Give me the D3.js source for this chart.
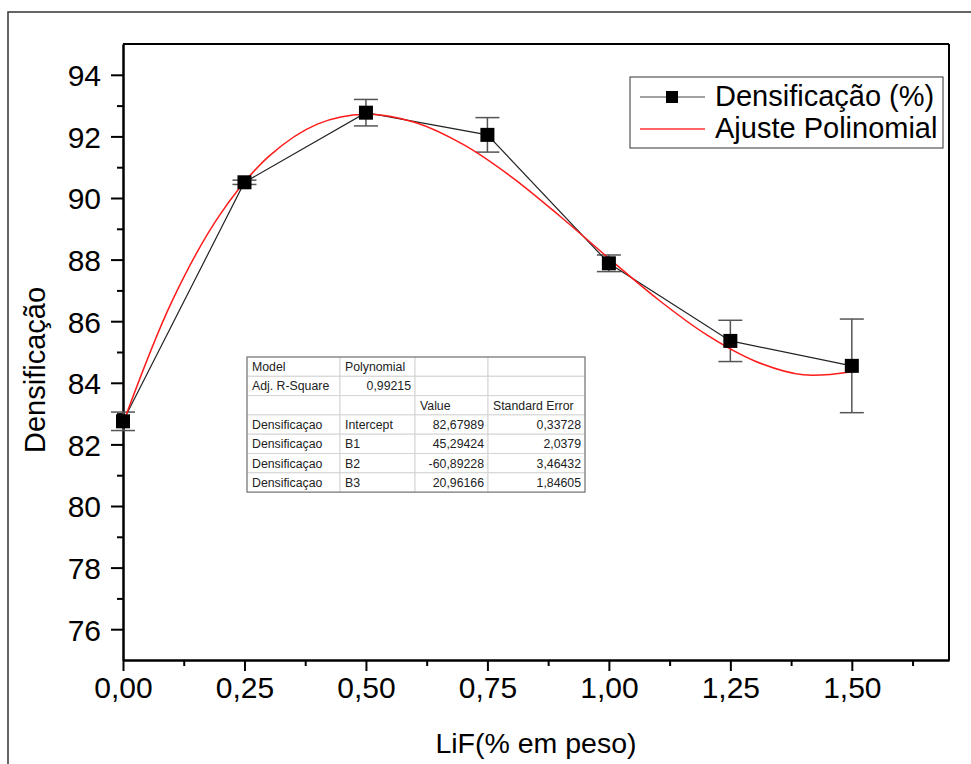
<!DOCTYPE html>
<html>
<head>
<meta charset="utf-8">
<script src="https://cdn.jsdelivr.net/npm/d3@7"></script>
<style>
  body { margin: 0; background: #fff; }
  svg { display: block; font-family: "Liberation Sans", Arial, sans-serif; }
  .axis path, .axis line { stroke: #000; stroke-width: 2; }
  .axis text { font-size: 30px; fill: #000; }
</style>
</head>
<body>
<div id="chart"></div>
<script>
// Densificação vs LiF content, with polynomial fit

// measured points
const lifContent = [0, 0.25, 0.5, 0.75, 1.0, 1.25, 1.5];
const densification = [82.75, 90.51, 92.77, 92.05, 87.88, 85.36, 84.55];
const densError = [0.30, 0.07, 0.43, 0.56, 0.27, 0.67, 1.52];

// red fit curve
const fitX = [0, 0.1, 0.2, 0.3, 0.4, 0.5, 0.6, 0.7, 0.8, 0.9, 1.0, 1.1, 1.2, 1.3, 1.4, 1.5];
const fitY = [82.68, 86.62, 89.47, 91.35, 92.40, 92.72, 92.46, 91.74, 90.68, 89.40,
              88.04, 86.72, 85.57, 84.71, 84.26, 84.36];

// axis ticks
const xTicks = [0, 0.25, 0.5, 0.75, 1.0, 1.25, 1.5];
const xMinorTicks = [0.125, 0.375, 0.625, 0.875, 1.125, 1.375, 1.625];
const yTicks = [76, 78, 80, 82, 84, 86, 88, 90, 92, 94];
const yMinorTicks = [77, 79, 81, 83, 85, 87, 89, 91, 93];

// fit results table
const tableRows = [
  ["Model", "Polynomial", "", ""],
  ["Adj. R-Square", "0,99215", "", ""],
  ["", "", "Value", "Standard Error"],
  ["Densificaçao", "Intercept", "82,67989", "0,33728"],
  ["Densificaçao", "B1", "45,29424", "2,0379"],
  ["Densificaçao", "B2", "-60,89228", "3,46432"],
  ["Densificaçao", "B3", "20,96166", "1,84605"]
];

const legendLabels = ["Densificação (%)", "Ajuste Polinomial"];

const width = 971, height = 764;
const margin = { top: 44, right: 22, bottom: 104, left: 123 };
const plot_width = width - margin.left - margin.right;
const plot_height = height - margin.top - margin.bottom;

const canvas = d3.select("#chart").append("svg")
  .attr("width", width)
  .attr("height", height);

// outer page frame
canvas.append("rect")
  .attr("x", 8).attr("y", 12)
  .attr("width", 1000).attr("height", 800)
  .attr("fill", "none")
  .attr("stroke", "#333")
  .attr("stroke-width", 1.5);

const plot = canvas.append("g")
  .attr("transform", `translate(${margin.left}, ${margin.top})`);

const x = d3.scaleLinear().domain([0, 1.7]).range([0, plot_width]);
const y = d3.scaleLinear().domain([75, 95]).range([plot_height, 0]);

const fmtX = v => d3.format(".2f")(v).replace(".", ",");

// ── Axes ────────────────────────────────────────────────────────────────
plot.append("g")
  .attr("class", "axis")
  .attr("transform", `translate(0, ${plot_height})`)
  .call(d3.axisBottom(x).tickValues(xMinorTicks).tickSize(6).tickSizeOuter(0).tickFormat(""));

plot.append("g")
  .attr("class", "axis")
  .attr("transform", `translate(0, ${plot_height})`)
  .call(d3.axisBottom(x).tickValues(xTicks).tickSize(11).tickSizeOuter(0).tickFormat(fmtX))
  .selectAll("text").attr("y", 38).attr("dy", 0);

plot.append("g")
  .attr("class", "axis")
  .call(d3.axisLeft(y).tickValues(yMinorTicks).tickSize(6).tickSizeOuter(0).tickFormat(""));

plot.append("g")
  .attr("class", "axis")
  .call(d3.axisLeft(y).tickValues(yTicks).tickSize(12).tickSizeOuter(0).tickPadding(10))
  .selectAll("text").attr("dy", "0.36em");

// top and right frame lines
plot.append("line")
  .attr("x1", 0).attr("x2", plot_width).attr("y1", 0).attr("y2", 0)
  .attr("stroke", "#000").attr("stroke-width", 2);
plot.append("line")
  .attr("x1", plot_width).attr("x2", plot_width).attr("y1", 0).attr("y2", plot_height)
  .attr("stroke", "#000").attr("stroke-width", 2);

// axis titles
canvas.append("text")
  .attr("x", margin.left + plot_width / 2)
  .attr("y", 753)
  .attr("text-anchor", "middle")
  .style("font-size", "28.5px")
  .text("LiF(% em peso)");

canvas.append("text")
  .attr("transform", "translate(45, 370) rotate(-90)")
  .attr("text-anchor", "middle")
  .style("font-size", "29px")
  .text("Densificação");

// ── Fit table ───────────────────────────────────────────────────────────
const colX = [247, 340, 415, 488, 585];
const rowH = 19.3;
const tableTop = 357;
const table = canvas.append("g");

tableRows.forEach((row, ri) => {
  row.forEach((cell, ci) => {
    table.append("rect")
      .attr("x", colX[ci]).attr("y", tableTop + ri * rowH)
      .attr("width", colX[ci + 1] - colX[ci]).attr("height", rowH)
      .attr("fill", "#fff")
      .attr("stroke", "#d4d4d4")
      .attr("stroke-width", 1);
    if (!cell) return;
    const numeric = /^-?[0-9]/.test(cell);
    table.append("text")
      .attr("x", numeric ? colX[ci + 1] - 4 : colX[ci] + 5)
      .attr("y", tableTop + ri * rowH + rowH / 2 + 4.5)
      .attr("text-anchor", numeric ? "end" : "start")
      .style("font-size", "12.3px")
      .style("fill", "#222")
      .text(cell);
  });
});

table.append("rect")
  .attr("x", colX[0]).attr("y", tableTop)
  .attr("width", colX[4] - colX[0]).attr("height", rowH * tableRows.length)
  .attr("fill", "none")
  .attr("stroke", "#666")
  .attr("stroke-width", 1);

// ── Data series ─────────────────────────────────────────────────────────
const points = lifContent.map((v, i) => ({ x: v, y: densification[i], e: densError[i] }));
const fitPoints = fitX.map((v, i) => ({ x: v, y: fitY[i] }));

// error bars
const errG = plot.append("g")
  .attr("stroke", "#555")
  .attr("stroke-width", 1.5);
points.forEach(d => {
  const cx = x(d.x);
  errG.append("line")
    .attr("x1", cx).attr("x2", cx)
    .attr("y1", y(d.y + d.e)).attr("y2", y(d.y - d.e));
  [d.y + d.e, d.y - d.e].forEach(v => {
    errG.append("line")
      .attr("x1", cx - 12).attr("x2", cx + 12)
      .attr("y1", y(v)).attr("y2", y(v));
  });
});

// connecting line
plot.append("path")
  .datum(points)
  .attr("fill", "none")
  .attr("stroke", "#222")
  .attr("stroke-width", 1.2)
  .attr("d", d3.line().x(d => x(d.x)).y(d => y(d.y)));

// polynomial fit
plot.append("path")
  .datum(fitPoints)
  .attr("fill", "none")
  .attr("stroke", "#ff1a1a")
  .attr("stroke-width", 1.5)
  .attr("d", d3.line().x(d => x(d.x)).y(d => y(d.y)).curve(d3.curveCatmullRom));

// square markers
const sq = 14;
plot.selectAll(".marker")
  .data(points)
  .join("rect")
  .attr("class", "marker")
  .attr("x", d => x(d.x) - sq / 2)
  .attr("y", d => y(d.y) - sq / 2)
  .attr("width", sq).attr("height", sq)
  .attr("fill", "#000");

// ── Legend ──────────────────────────────────────────────────────────────
const legend = canvas.append("g").attr("transform", "translate(630, 77)");

legend.append("rect")
  .attr("width", 313).attr("height", 71)
  .attr("fill", "#fff")
  .attr("stroke", "#333")
  .attr("stroke-width", 1);

legend.append("line")
  .attr("x1", 10).attr("x2", 75).attr("y1", 20).attr("y2", 20)
  .attr("stroke", "#444").attr("stroke-width", 1.2);
legend.append("rect")
  .attr("x", 36).attr("y", 14).attr("width", 12).attr("height", 12)
  .attr("fill", "#000");
legend.append("line")
  .attr("x1", 10).attr("x2", 75).attr("y1", 52).attr("y2", 52)
  .attr("stroke", "#ff3333").attr("stroke-width", 1.5);

legendLabels.forEach((label, i) => {
  legend.append("text")
    .attr("x", 85)
    .attr("y", 29 + i * 32)
    .style("font-size", "29px")
    .text(label);
});
</script>
</body>
</html>
